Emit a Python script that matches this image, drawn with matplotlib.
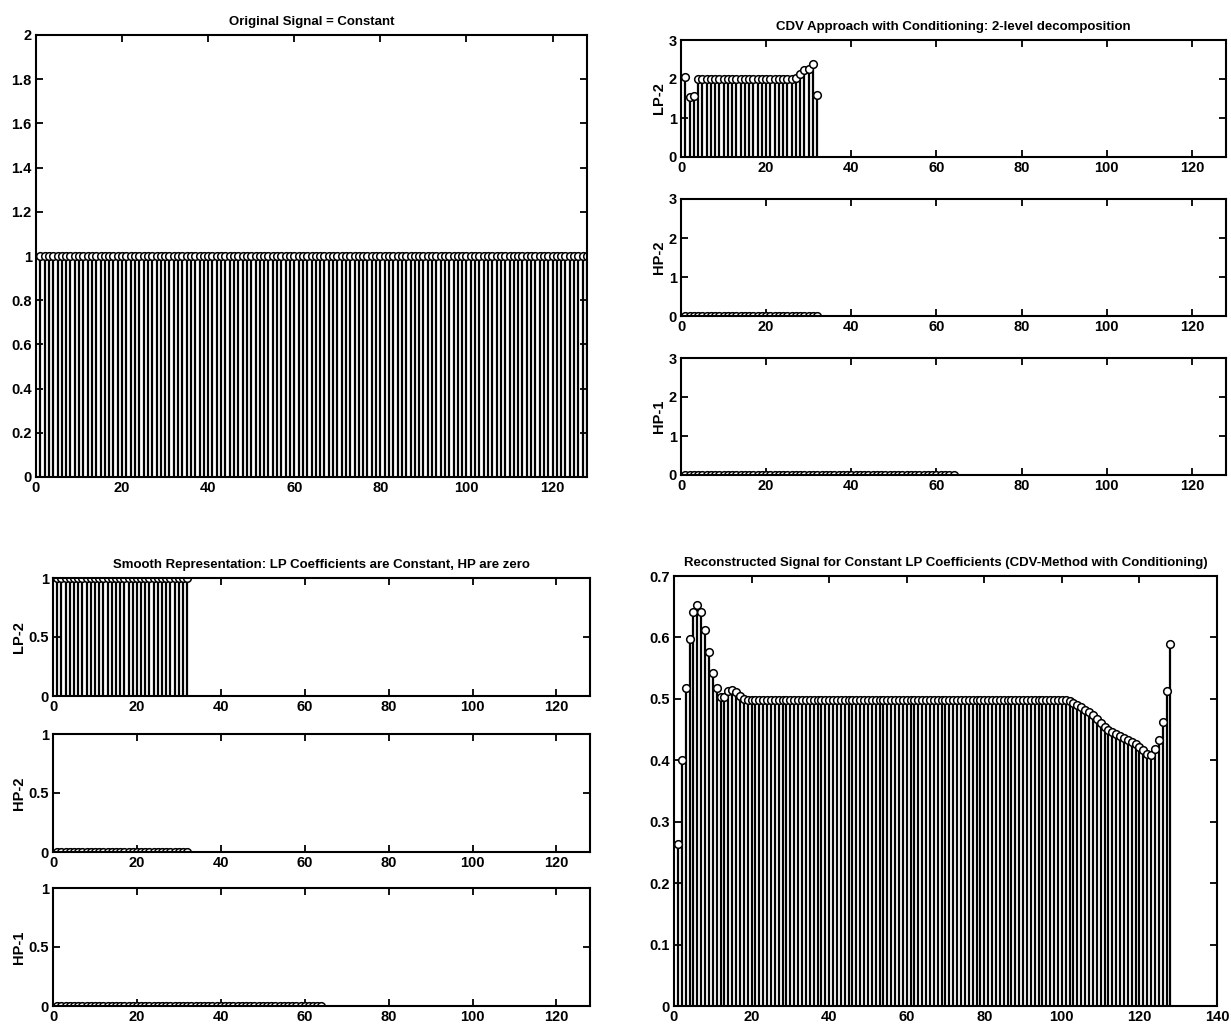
import numpy as np
import matplotlib
matplotlib.use('Agg')
import matplotlib.pyplot as plt
from matplotlib.ticker import FormatStrFormatter

plt.rcParams['font.family'] = ['Liberation Sans', 'DejaVu Sans']
plt.rcParams['font.weight'] = 'bold'

# señal original: constante de 128 muestras
original = [1.0] * 128

# descomposicion CDV con condicionamiento (2 niveles)
cdv_lp2 = [2.06, 1.53, 1.57, 2.0,
           2.0, 2.0, 2.0, 2.0, 2.0, 2.0, 2.0, 2.0, 2.0, 2.0, 2.0,
           2.0, 2.0, 2.0, 2.0, 2.0, 2.0, 2.0, 2.0, 2.0, 2.0, 2.0,
           2.03, 2.12, 2.22, 2.25, 2.38, 1.60]
cdv_hp2 = [0.0] * 32
cdv_hp1 = [0.0] * 64

# representacion suave: LP constantes, HP cero
suave_lp2 = [1.0] * 32
suave_hp2 = [0.0] * 32
suave_hp1 = [0.0] * 64

# señal reconstruida
reconstruida = [
    0.263, 0.400, 0.518, 0.597, 0.641, 0.653, 0.641, 0.612, 0.576, 0.542,
    0.517, 0.503, 0.503, 0.513, 0.515, 0.511, 0.505, 0.500, 0.498, 0.498,
    0.498, 0.498, 0.498, 0.498, 0.498, 0.498, 0.498, 0.498, 0.498, 0.498,
    0.498, 0.498, 0.498, 0.498, 0.498, 0.498, 0.498, 0.498, 0.498, 0.498,
    0.498, 0.498, 0.498, 0.498, 0.498, 0.498, 0.498, 0.498, 0.498, 0.498,
    0.498, 0.498, 0.498, 0.498, 0.498, 0.498, 0.498, 0.498, 0.498, 0.498,
    0.498, 0.498, 0.498, 0.498, 0.498, 0.498, 0.498, 0.498, 0.498, 0.498,
    0.498, 0.498, 0.498, 0.498, 0.498, 0.498, 0.498, 0.498, 0.498, 0.498,
    0.498, 0.498, 0.498, 0.498, 0.498, 0.498, 0.498, 0.498, 0.498, 0.498,
    0.498, 0.498, 0.498, 0.498, 0.498, 0.498, 0.498, 0.498, 0.498, 0.498,
    0.498, 0.497, 0.494, 0.490, 0.486, 0.482, 0.478, 0.474, 0.468, 0.461,
    0.455, 0.450, 0.446, 0.442, 0.439, 0.436, 0.433, 0.430, 0.426, 0.421,
    0.416, 0.411, 0.409, 0.418, 0.433, 0.463, 0.512, 0.590]

W, H = 1231, 1031


def ejes(fig, izq, arriba, der, abajo):
    # posicion en pixeles -> fraccion de figura
    return fig.add_axes([izq / W, 1 - abajo / H, (der - izq) / W, (abajo - arriba) / H])


def dibujarStem(ax, valores, xmax, yticks, fmt='%g'):
    x = np.arange(1, len(valores) + 1)
    ml, sl, bl = ax.stem(x, valores, linefmt='k-', markerfmt='ko', basefmt=' ')
    sl.set_linewidth(1.6)
    ml.set_markerfacecolor('white')
    ml.set_markeredgewidth(1.1)
    ml.set_markersize(5.5)
    ax.set_xlim(0, xmax)
    ax.set_ylim(yticks[0], yticks[-1])
    ax.set_yticks(yticks)
    ax.set_xticks(np.arange(0, xmax + 1, 20))
    ax.yaxis.set_major_formatter(FormatStrFormatter(fmt))
    ax.tick_params(direction='in', top=True, right=True, length=5, width=1.3,
                   labelsize=10.5, pad=3)
    for lab in ax.get_xticklabels() + ax.get_yticklabels():
        lab.set_fontweight('bold')
    for s in ax.spines.values():
        s.set_linewidth(1.5)


fig = plt.figure(figsize=(W / 100, H / 100), dpi=100)

# arriba izquierda
ax = ejes(fig, 36, 35, 587, 477)
dibujarStem(ax, original, 128, [0, 0.2, 0.4, 0.6, 0.8, 1, 1.2, 1.4, 1.6, 1.8, 2])
ax.set_title('Original Signal = Constant', fontsize=9.5, fontweight='bold', pad=7)

# arriba derecha: tres niveles
filas = [(40, 157), (199, 316), (358, 475)]
datos = [(cdv_lp2, 'LP-2'), (cdv_hp2, 'HP-2'), (cdv_hp1, 'HP-1')]
for (t, b), (vals, nombre) in zip(filas, datos):
    ax = ejes(fig, 681, t, 1226, b)
    dibujarStem(ax, vals, 128, [0, 1, 2, 3])
    ax.set_ylabel(nombre, fontsize=10.5, fontweight='bold', labelpad=2)
    if nombre == 'LP-2':
        ax.set_title('CDV Approach with Conditioning: 2-level decomposition',
                     fontsize=9.5, fontweight='bold', pad=7)

# abajo izquierda
filas = [(578, 696), (734, 852), (888, 1006)]
datos = [(suave_lp2, 'LP-2'), (suave_hp2, 'HP-2'), (suave_hp1, 'HP-1')]
for (t, b), (vals, nombre) in zip(filas, datos):
    ax = ejes(fig, 53, t, 590, b)
    dibujarStem(ax, vals, 128, [0, 0.5, 1])
    ax.set_ylabel(nombre, fontsize=10.5, fontweight='bold', labelpad=2)
    if nombre == 'LP-2':
        ax.set_title('Smooth Representation: LP Coefficients are Constant, HP are zero',
                     fontsize=9.5, fontweight='bold', pad=7)

# abajo derecha
ax = ejes(fig, 674, 576, 1217, 1006)
dibujarStem(ax, reconstruida, 140, [0, 0.1, 0.2, 0.3, 0.4, 0.5, 0.6, 0.7])
ax.set_title('Reconstructed Signal for Constant LP Coefficients (CDV-Method with Conditioning)',
             fontsize=9.5, fontweight='bold', pad=7)

fig.savefig('out.png', dpi=100)
